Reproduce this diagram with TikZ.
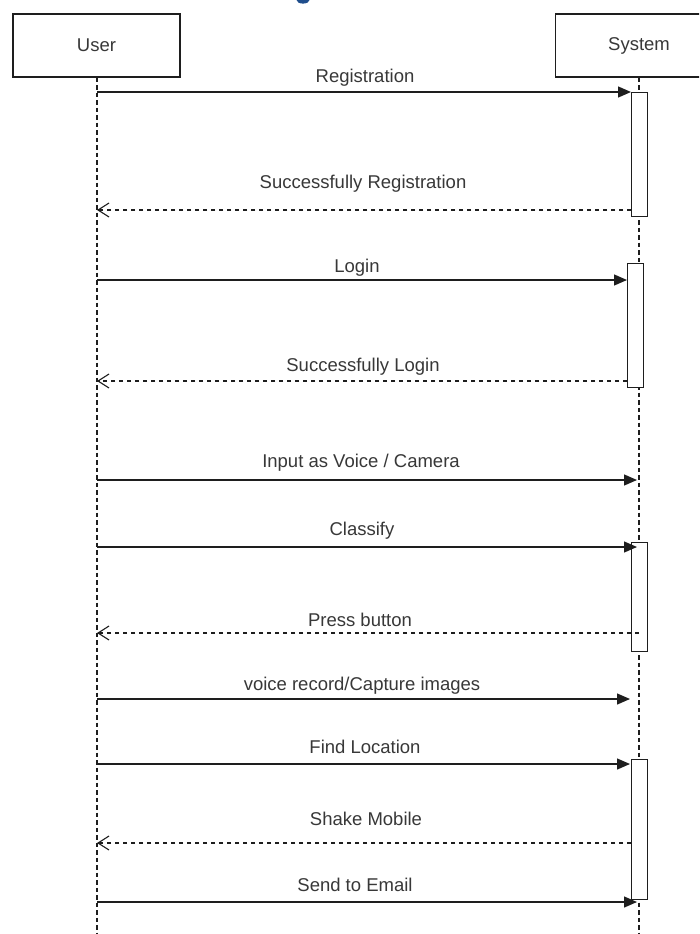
\documentclass[tikz,border=0pt]{standalone}
\usepackage{fontspec}
\setmainfont{Liberation Sans}
\usetikzlibrary{arrows.meta}
\definecolor{ink}{HTML}{1E1E1E}
\definecolor{txt}{HTML}{383838}
\definecolor{titleblue}{HTML}{1F4E8C}
\tikzset{
  lifebox/.style={draw=ink, line width=1.2pt, fill=white, minimum width=167pt, minimum height=63pt, inner sep=0pt, font=\fontsize{18.5}{20}\selectfont, text=txt},
  actbox/.style={draw=ink, line width=1.2pt, fill=white, minimum width=16pt, inner sep=0pt, anchor=north west},
  lifeline/.style={ink, line width=1.2pt, dash pattern=on 4.5pt off 3pt},
  msg/.style={ink, line width=1.3pt, -{Triangle[length=13pt,width=11pt]}},
  ret/.style={ink, line width=1.1pt, dash pattern=on 4.5pt off 3.5pt, -{Straight Barb[length=11pt,width=14pt,line width=1.1pt]}},
  lbl/.style={text=txt, font=\fontsize{18.5}{20}\selectfont, inner sep=0pt}
}
\begin{document}
\begin{tikzpicture}[x=1pt,y=-1pt]
\useasboundingbox (0,0) rectangle (699,934);
\clip (0,0) rectangle (699,934);
\fill[white] (0,0) rectangle (699,934);
% fragment of a cut-off title
\fill[titleblue] (303,0) ellipse (6.5 and 3.6);
% lifeline heads
\node[lifebox] (user) at (96.5,45.5) {User};
\node[lifebox] (sys) at (639,45.5) {System};
\coordinate (uend) at (97,940);
\coordinate (send) at (639,940);
\draw[lifeline] (user.south -| uend) -- (uend);
\draw[lifeline] (sys.south -| send) -- (send);
% activation boxes
\node[actbox, minimum height=124pt] (a1) at (631,92) {};
\node[actbox, minimum height=124pt] (a2) at (627,263) {};
\node[actbox, minimum height=109pt] (a3) at (631,542) {};
\node[actbox, minimum height=140pt] (a4) at (631,759) {};
% message end points
\coordinate (m1s) at (97,92);   \coordinate (m1e) at (631,92);
\coordinate (r1s) at (631,210); \coordinate (r1e) at (97,210);
\coordinate (m2s) at (97,280);  \coordinate (m2e) at (627,280);
\coordinate (r2s) at (627,381); \coordinate (r2e) at (97,381);
\coordinate (m3s) at (97,480);  \coordinate (m3e) at (637,480);
\coordinate (m4s) at (97,547);  \coordinate (m4e) at (637,547);
\coordinate (r3s) at (639,633); \coordinate (r3e) at (97,633);
\coordinate (m5s) at (97,699);  \coordinate (m5e) at (630,699);
\coordinate (m6s) at (97,764);  \coordinate (m6e) at (630,764);
\coordinate (r4s) at (631,843); \coordinate (r4e) at (97,843);
\coordinate (m7s) at (97,902);  \coordinate (m7e) at (637,902);
% messages
\draw[msg] (m1s) -- (m1e);
\draw[ret] (r1s) -- (r1e);
\draw[msg] (m2s) -- (m2e);
\draw[ret] (r2s) -- (r2e);
\draw[msg] (m3s) -- (m3e);
\draw[msg] (m4s) -- (m4e);
\draw[ret] (r3s) -- (r3e);
\draw[msg] (m5s) -- (m5e);
\draw[msg] (m6s) -- (m6e);
\draw[ret] (r4s) -- (r4e);
\draw[msg] (m7s) -- (m7e);
% labels
\node[lbl] (l1) at (365,78) {Registration};
\node[lbl] (l2) at (363,184) {Successfully Registration};
\node[lbl] (l3) at (357,268) {Login};
\node[lbl] (l4) at (363,367) {Successfully Login};
\node[lbl] (l5) at (361,463) {Input as Voice / Camera};
\node[lbl] (l6) at (362,531) {Classify};
\node[lbl] (l7) at (360,620) {Press button};
\node[lbl] (l8) at (362,686) {voice record/Capture images};
\node[lbl] (l9) at (365,747) {Find Location};
\node[lbl] (l10) at (366,819) {Shake Mobile};
\node[lbl] (l11) at (355,885) {Send to Email};
\end{tikzpicture}
\end{document}
